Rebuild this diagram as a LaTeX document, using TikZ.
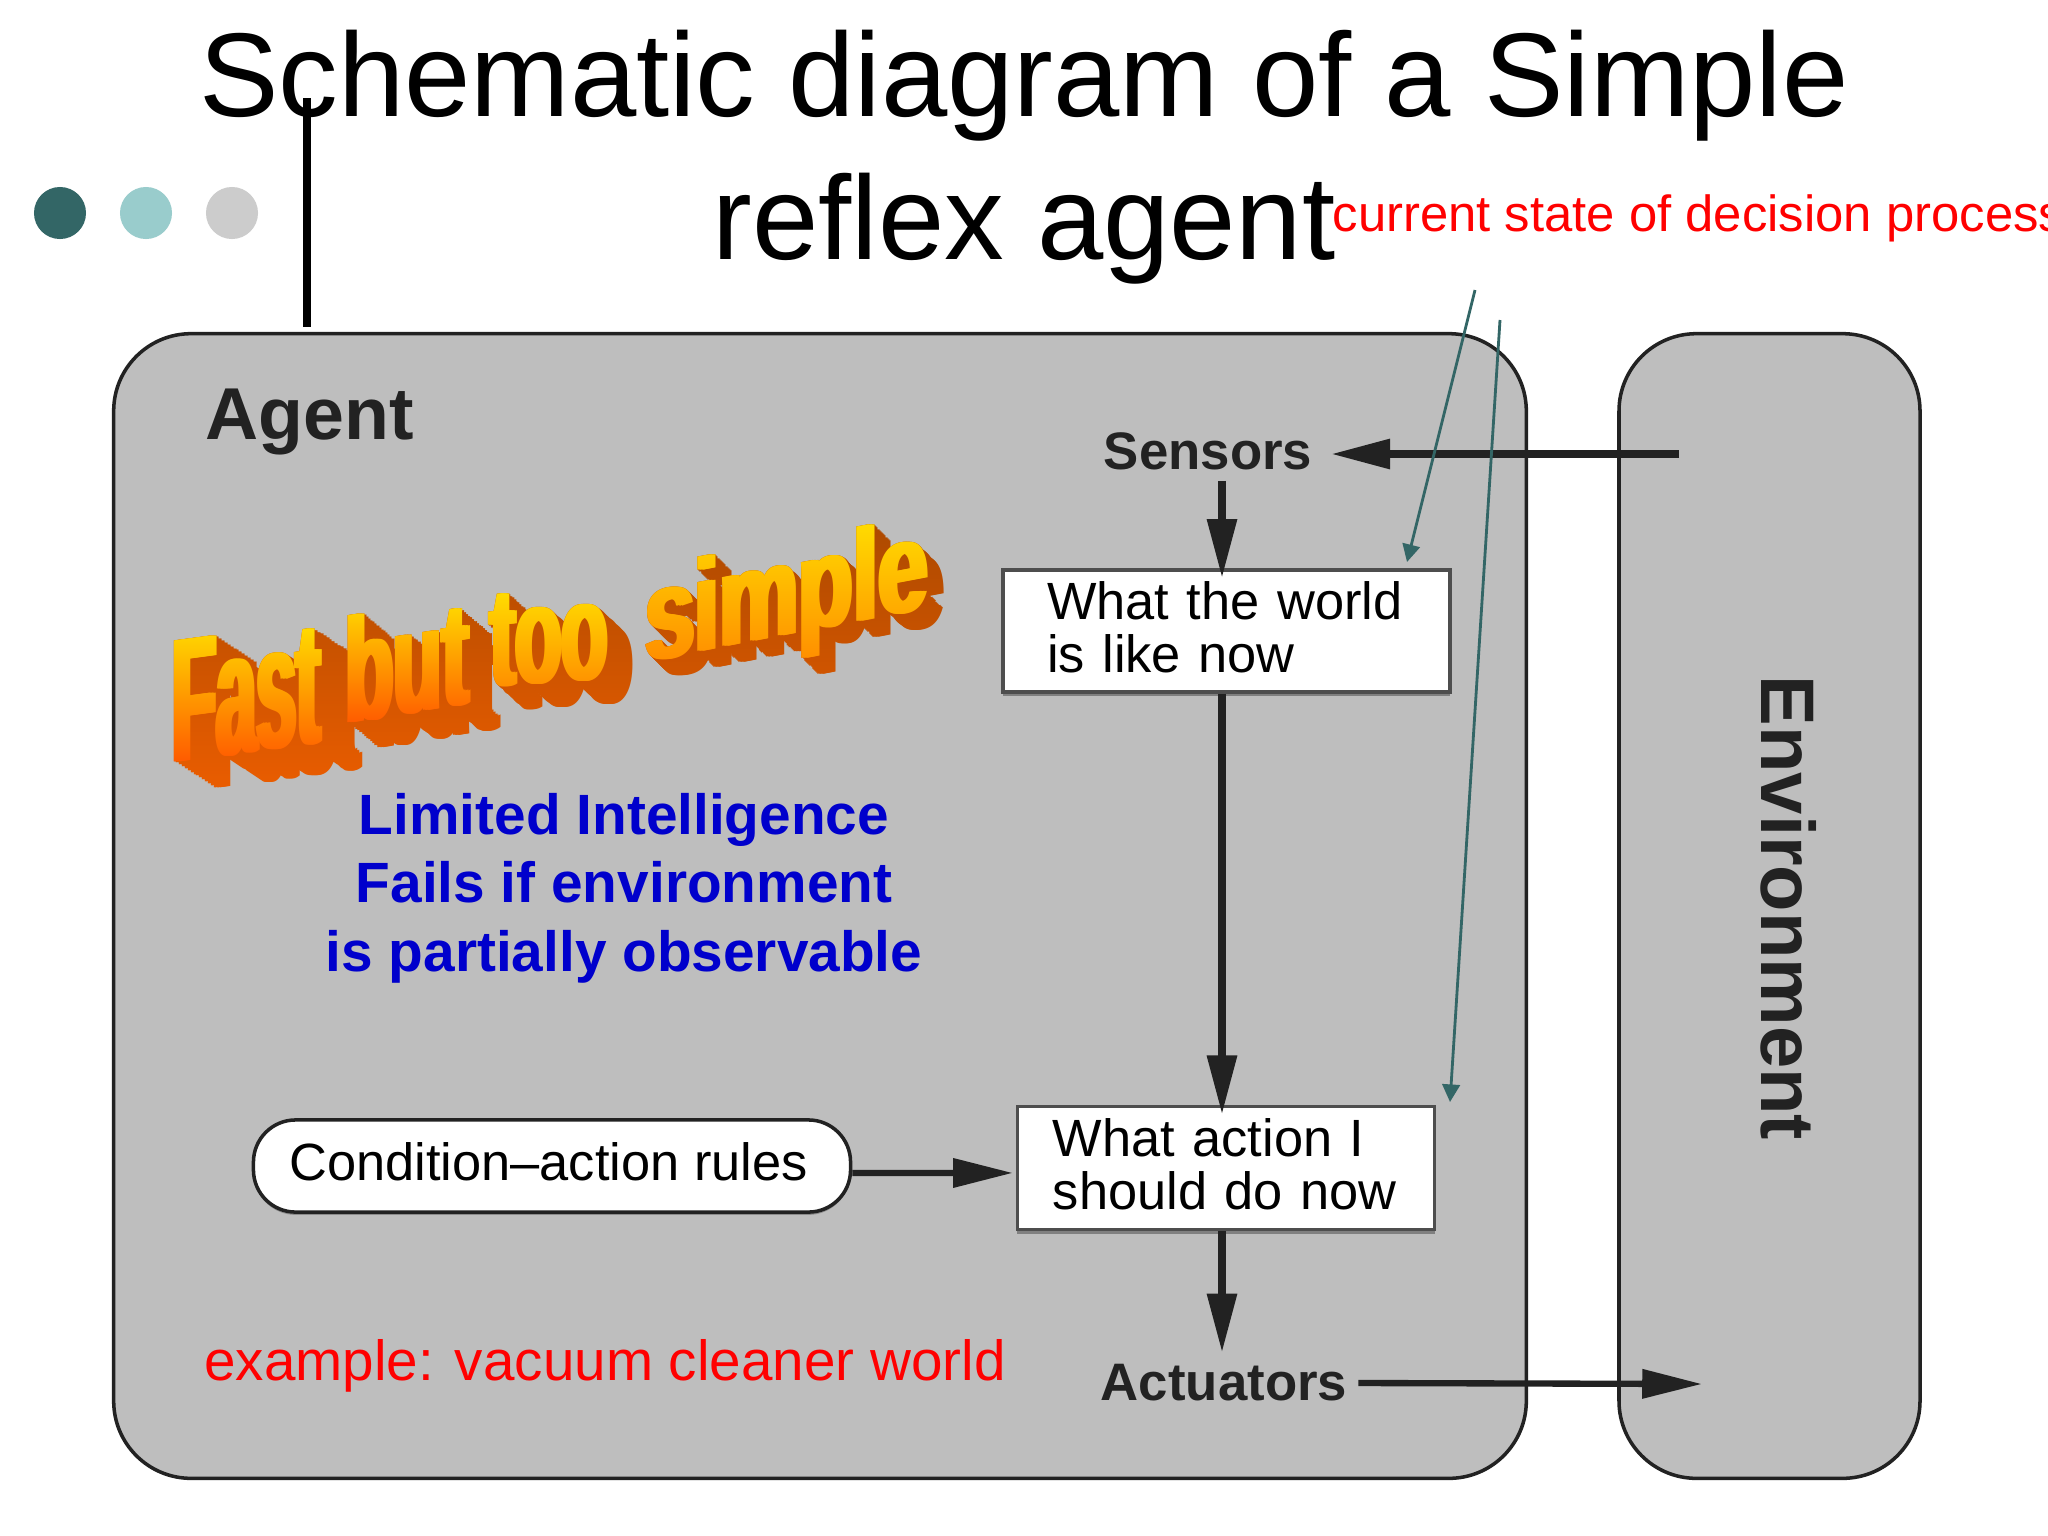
\documentclass[tikz,border=0pt]{standalone}
\usepackage{fontspec}
\setmainfont{Liberation Sans}
\usetikzlibrary{arrows.meta,shadows,fadings}
\definecolor{teal}{HTML}{336666}
\definecolor{paleTeal}{HTML}{99CCCC}
\definecolor{paleGray}{HTML}{CCCCCC}
\definecolor{boxGray}{HTML}{BEBEBE}
\definecolor{inkGray}{HTML}{222222}
\definecolor{noteBlue}{HTML}{0000CC}
\definecolor{artYellow}{HTML}{FFE400}
\definecolor{artRed}{HTML}{FF5000}
\definecolor{artOrange}{HTML}{FF8A00}
\definecolor{artBrown}{HTML}{A84800}
\definecolor{artSide}{HTML}{EE5E00}

\newcommand{\artword}[6]{%
\begin{pgfscope}
\pgftransformcm{#3}{#4}{0}{#5}{\pgfpoint{(#1)*0.01cm}{-(#2)*0.01cm}}
\pgftext[base,left]{\color{white}\fontsize{20}{20}\selectfont\bfseries #6}
\end{pgfscope}}
\newcommand{\artfat}[6]{%
\foreach \j in {-3,-1.5,0,1.5,3} {\artword{#1+\j}{#2}{#3}{#4}{#5}{#6}}}
\newcommand{\artdepth}[8]{%
\foreach \i in {0,...,14} {\artfat{#1+\i*#6/14}{#2+\i*#7/14}{#3}{#4}{#5}{#8}}}
\newcommand{\artmask}[5]{%
\pgfinterruptpicture
\pgfdeclarefading{#1}{\begin{pgfpicture}
\pgfpathrectangle{\pgfpoint{#2*0.01cm}{-#5*0.01cm}}{\pgfpoint{(#4-#2)*0.01cm}{(#5-#3)*0.01cm}}
\pgfusepath{use as bounding box}
\pgfpathrectangle{\pgfpoint{#2*0.01cm}{-#5*0.01cm}}{\pgfpoint{(#4-#2)*0.01cm}{(#5-#3)*0.01cm}}
\pgfsetfillcolor{black}\pgfusepath{fill}
\artcontent
\end{pgfpicture}}
\endpgfinterruptpicture}

\begin{document}
\begin{tikzpicture}[x=0.01cm,y=-0.01cm]
\tikzstyle{panel} = [rectangle, rounded corners=22pt, fill=boxGray, draw=inkGray, line width=1pt]
\tikzstyle{stepBox} = [rectangle, fill=white, draw=inkGray!80, line width=1pt, align=left, inner sep=0pt, text depth=17.5pt, font=\fontsize{14.9}{14.9}\selectfont, drop shadow={shadow xshift=0pt, shadow yshift=-1.2pt, fill=black!50, opacity=1}]
\tikzstyle{port} = [font=\fontsize{15}{15}\selectfont\bfseries, text=inkGray, inner xsep=3pt, inner ysep=3pt]
\tikzstyle{dot} = [circle, minimum size=14.8pt, inner sep=0pt]
\tikzstyle{flow} = [draw=inkGray, line width=2.5pt, -{Triangle[length=17pt,width=8pt]}]
\tikzstyle{thinFlow} = [draw=inkGray, line width=1.8pt, -{Triangle[length=17pt,width=8pt]}]
\tikzstyle{note} = [draw=teal, line width=0.8pt, -{Triangle[length=5pt,width=5pt]}]
\def\artcontent{%
\artdepth{172}{762}{1.03}{0.138}{2.5}{40}{26}{Fast}
\artdepth{345}{723}{1.13}{0.175}{2.1}{30}{25}{but}
\artdepth{490}{686}{1.08}{0.065}{2.0}{25}{23}{too}
\artdepth{645}{662}{1.27}{0.241}{1.85}{16}{16}{simple}}
\artmask{artDepthFade}{150}{500}{970}{810}
\def\artcontent{\artfat{172}{762}{1.03}{0.138}{2.5}{Fast}}
\artmask{artFast}{160}{615}{340}{775}
\def\artcontent{\artfat{345}{723}{1.13}{0.175}{2.1}{but}}
\artmask{artBut}{335}{590}{480}{735}
\def\artcontent{\artfat{490}{686}{1.08}{0.065}{2.0}{too}}
\artmask{artToo}{480}{580}{620}{695}
\def\artcontent{\artfat{645}{662}{1.27}{0.241}{1.85}{simple}}
\artmask{artSimple}{635}{505}{940}{670}
\useasboundingbox (0,0) rectangle (2048,1536);
\fill[white] (0,0) rectangle (2048,1536);
\node (agentBox) at (820,906) [panel, minimum width=401.7pt, minimum height=325.5pt] {};
\node (envBox) at (1769.5,906) [panel, minimum width=85.6pt, minimum height=325.5pt] {};
\node (title) at (1024,157) [align=center, font=\fontsize{33.9}{40.7}\selectfont] {Schematic diagram of a Simple\\reflex agent};
\node (dotA) at (60,213) [dot, fill=teal] {};
\node (dotB) at (146,213) [dot, fill=paleTeal] {};
\node (dotC) at (232,213) [dot, fill=paleGray] {};
\node (state) at (1332,218) [anchor=west, inner sep=0pt, text=red, font=\fontsize{14.45}{14.45}\selectfont] {current state of decision process};
\node (agent) at (310,422) [font=\fontsize{20.9}{20.9}\selectfont\bfseries, text=inkGray] {Agent};
\node (environment) at (1789,908) [rotate=-90, font=\fontsize{21.6}{21.6}\selectfont\bfseries, text=inkGray] {Environment};
\node (sensors) at (1208,451) [port, inner xsep=5pt] {Sensors};
\node (actuators) at (1224,1383) [port] {Actuators};
\node (world) at (1226.5,631) [stepBox, text width=102pt, minimum width=127pt, minimum height=34.7pt] {What the world\\[0.3pt]is like now};
\node (action) at (1226,1168) [stepBox, text width=98.5pt, minimum width=118.6pt, minimum height=35pt] {What action I\\[0.3pt]should do now};
\node (rules) at (552,1166) [rectangle, rounded corners=12pt, fill=white, draw=inkGray, line width=1pt, minimum width=169.8pt, minimum height=26.2pt, inner sep=0pt, font=\fontsize{14.9}{14.9}\selectfont, drop shadow={shadow xshift=0pt, shadow yshift=-0.8pt, fill=black!45, opacity=1}] {\raisebox{2.5pt}{\hspace{-2pt}Condition--action rules}};
\node (limits) at (624,888) [align=center, text=noteBlue, font=\fontsize{16.15}{19.5}\selectfont\bfseries] {Limited Intelligence\\Fails if environment\\is partially observable};
\node (example) at (605,1366) [text=red, font=\fontsize{16.1}{16.1}\selectfont] {example: vacuum cleaner world};
\shade[path fading=artDepthFade, fit fading=false, fading transform={shift={(560,655)}}, top color=artBrown, bottom color=artSide] (152,502) rectangle (968,808);
\shade[path fading=artFast, fit fading=false, fading transform={shift={(250,695)}}, top color=artYellow, bottom color=artRed] (162,617) rectangle (338,773);
\shade[path fading=artBut, fit fading=false, fading transform={shift={(407.5,662.5)}}, top color=artYellow, bottom color=artRed] (337,592) rectangle (478,733);
\shade[path fading=artToo, fit fading=false, fading transform={shift={(550,637.5)}}, top color=artYellow, bottom color=artOrange] (482,582) rectangle (618,693);
\shade[path fading=artSimple, fit fading=false, fading transform={shift={(787.5,587.5)}}, top color=artYellow, bottom color=artOrange] (637,507) rectangle (938,668);
\coordinate (flowX) at (1222,0);
\coordinate (envIn) at (1679,454);
\coordinate (envOut) at (1702,1384);
\coordinate (ruleTop) at (307,98);
\coordinate (ruleEnd) at (307,327);
\coordinate (noteA) at (1475,290);
\coordinate (noteAEnd) at (1407,562);
\coordinate (noteB) at (1500,320);
\coordinate (noteBEnd) at (1450,1102);
\draw[flow] (envIn) -- (envIn -| sensors.east);
\draw[flow, shorten >=-3pt] (sensors.south -| flowX) -- (world.north -| flowX);
\draw[flow, shorten >=-3pt] (world.south -| flowX) -- (action.north -| flowX);
\draw[flow] (action.south -| flowX) -- (actuators.north -| flowX);
\draw[thinFlow, shorten >=0.8pt] ([yshift=-2pt]rules.east) -- ([yshift=-1.4pt]action.west);
\draw[thinFlow] (actuators.east) -- (envOut);
\draw[draw=black, line width=2pt] (ruleTop) -- (ruleEnd);
\draw[note] (noteA) -- (noteAEnd);
\draw[note] (noteB) -- (noteBEnd);
\end{tikzpicture}
\end{document}
